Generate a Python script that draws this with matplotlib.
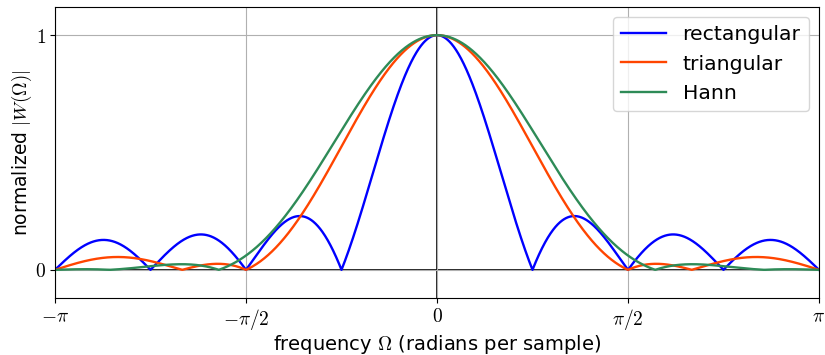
import numpy as np
import matplotlib
matplotlib.use("Agg")
import matplotlib.pyplot as plt

plt.rcParams['mathtext.fontset'] = 'cm'
plt.rcParams['font.family'] = ['DejaVu Sans']

# window coefficients (length 8)
rect = [1, 1, 1, 1, 1, 1, 1, 1]
tri = [0, 2/7, 4/7, 6/7, 6/7, 4/7, 2/7, 0]
hann = [0, 0.1883, 0.6113, 0.9505, 0.9505, 0.6113, 0.1883, 0]
names = ['rectangular', 'triangular', 'Hann']
colors = ['blue', 'orangered', 'seagreen']

xticks = [-np.pi, -np.pi/2, 0, np.pi/2, np.pi]
xticklabels = [r'$-\pi$', r'$-\pi/2$', r'$0$', r'$\pi/2$', r'$\pi$']

Om = np.linspace(-np.pi, np.pi, 2001)

def spectrum(w):
    w = np.asarray(w, dtype=float)
    n = np.arange(len(w))
    W = np.abs(np.exp(-1j * np.outer(Om, n)) @ w)
    return W / W.max()

fig = plt.figure(figsize=(8.25, 3.55), dpi=100)
ax = fig.add_axes([55/825, 1 - 298/355, 764/825, 291/355])

for w, name, c in zip([rect, tri, hann], names, colors):
    ax.plot(Om, spectrum(w), color=c, lw=1.7, label=name)

ax.axhline(0, color='k', lw=1.2, zorder=1)
ax.axvline(0, color='k', lw=1.2, zorder=1)
ax.set_xlim(-np.pi, np.pi)
ax.set_ylim(-0.12, 1.12)
ax.set_xticks(xticks)
ax.set_xticklabels(xticklabels)
ax.set_yticks([0, 1])
ax.set_yticklabels([r'$0$', r'$1$'])
ax.tick_params(labelsize=14, pad=3)
ax.grid(True, color='#b0b0b0', lw=0.8)
ax.set_xlabel(r'frequency $\Omega$ (radians per sample)', fontsize=14, labelpad=1)
ax.set_ylabel(r'normalized $|W(\Omega)|$', fontsize=13.5, labelpad=1)
ax.legend(loc='upper right', fontsize=14.7, handlelength=2.2)

fig.savefig('out.png', dpi=100)
